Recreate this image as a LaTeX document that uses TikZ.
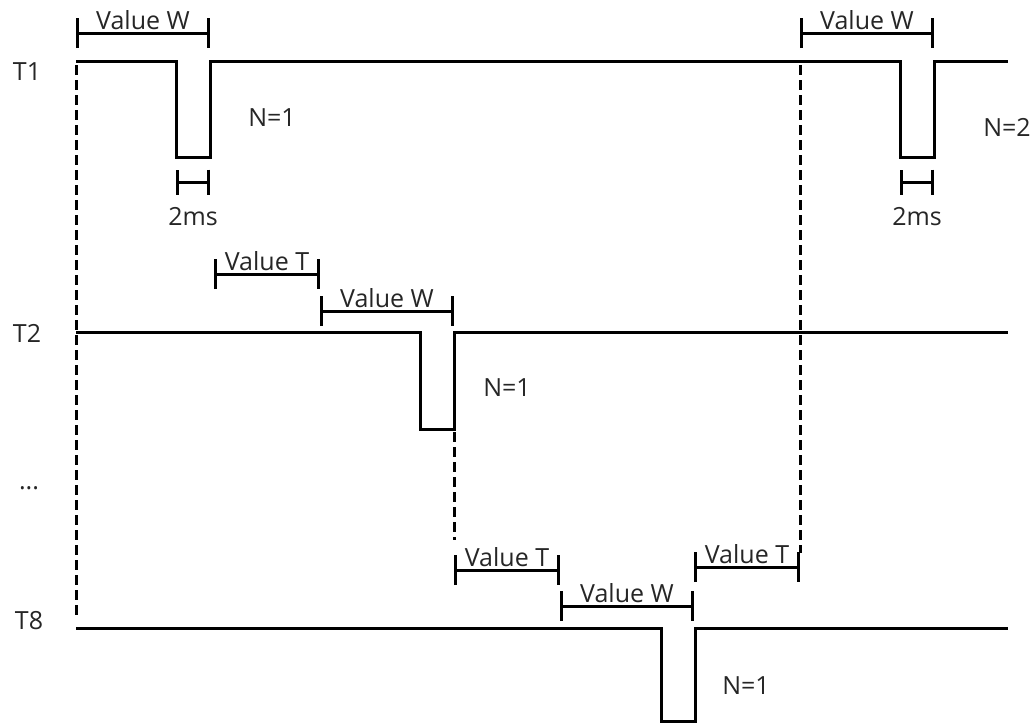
\documentclass[tikz,border=0pt]{standalone}
\usepackage{fontspec}
\setmainfont{Open Sans}
\usetikzlibrary{arrows.meta}

\begin{document}
\begin{tikzpicture}[x=0.5pt, y=-0.5pt,
    wave/.style={line width=1.5pt, line join=miter},
    span/.style={{Bar[width=15pt]}-{Bar[width=15pt]}, line width=1.5pt},
    short span/.style={{Bar[width=12.5pt]}-{Bar[width=12.5pt]}, line width=1.5pt},
    guide/.style={line width=1.5pt, dash pattern=on 5pt off 2.5pt},
    lbl/.style={font=\fontsize{12.5}{14}\selectfont, text=black!85, inner sep=1pt}
]
\useasboundingbox (0,0) rectangle (1034,724);

% channel names
\node[lbl] (chT1) at (27,72) {T1};
\node[lbl] (chT2) at (27,333) {T2};
\node[lbl] (chDots) at (29,488) {...};
\node[lbl] (chT8) at (29,621) {T8};

% guides
\draw[guide] (76,65) -- (76,617);
\draw[guide] (800,65) -- (800,553);
\draw[guide] (454,432) -- (454,540);

% waveforms
\draw[wave] (76,61) -- (176,61) -- (176,157) -- (210,157) -- (210,61)
    -- (900,61) -- (900,157) -- (934,157) -- (934,61) -- (1008,61);
\draw[wave] (76,332) -- (420,332) -- (420,429) -- (454,429) -- (454,332) -- (1008,332);
\draw[wave] (76,628) -- (661,628) -- (661,721) -- (695,721) -- (695,628) -- (1008,628);

% T1 spans
\draw[span] (76,33) -- node[lbl, above] (wT1a) {Value W} (210,33);
\draw[short span] (176,182) -- (210,182);
\node[lbl] (msT1a) at (193,217) {2ms};
\node[lbl] (cntT1a) at (272,118) {N=1};

\draw[span] (800,33) -- node[lbl, above] (wT1b) {Value W} (934,33);
\draw[short span] (900,182) -- (934,182);
\node[lbl] (msT1b) at (917,217) {2ms};
\node[lbl] (cntT1b) at (1007,127) {N=2};

% T2 spans
\draw[span] (214,274) -- node[lbl, above] (tT2) {Value T} (320,274);
\draw[span] (320,311) -- node[lbl, above] (wT2) {Value W} (454,311);
\node[lbl] (cntT2) at (507,388) {N=1};

% T8 spans
\draw[span] (454,570) -- node[lbl, above] (tT8a) {Value T} (560,570);
\draw[span] (560,606) -- node[lbl, above] (wT8) {Value W} (694,606);
\draw[span] (694,567) -- node[lbl, above] (tT8b) {Value T} (800,567);
\node[lbl] (cntT8) at (746,686) {N=1};
\end{tikzpicture}
\end{document}
